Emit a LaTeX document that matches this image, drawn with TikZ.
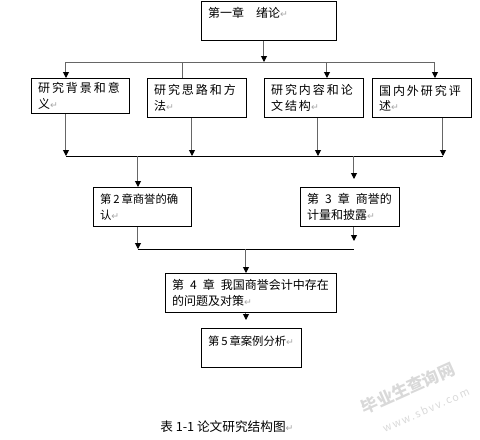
\documentclass[tikz,border=0pt]{standalone}
\usepackage{fontspec}
\usepackage{xcolor}
\usetikzlibrary{arrows.meta}
\newfontfamily\cjk{Noto Sans CJK SC}
\newfontfamily\cjkw[LetterSpace=16]{Noto Sans CJK SC}
\newfontfamily\symf{DejaVu Sans}
\newcommand\retm{{\color{gray!70}\symf\fontsize{7}{11.5}\selectfont ↵}}
\tikzset{
  chap/.style={draw, line width=0.75pt, anchor=north west, align=left, inner xsep=5pt, inner ysep=2pt},
  link/.style={draw=gray!80!black, line width=0.75pt},
  wmark/.style={text=gray!30, rotate=24}
}
\begin{document}
\begin{tikzpicture}[x=0.75pt, y=-0.75pt, font=\cjk\fontsize{9}{11.5}\selectfont, >={Triangle[length=4.5pt,width=4.5pt,color=black]}]
	\useasboundingbox (0,0) rectangle (480,440);
	% boxes
	\node[chap, text width=91.25pt, minimum height=29.25pt] (top) at (201,0.5) {第一章\quad 绪论\retm\\ ~};
	\node[chap, text width=63.5pt, minimum height=26.25pt] (r1) at (31,78) {\cjkw 研究背景和意\\ 义\retm};
	\node[chap, text width=64.25pt, minimum height=29.25pt] (r2) at (147,78) {\cjkw 研究思路和方\\ 法\retm};
	\node[chap, text width=64.25pt, minimum height=29.25pt] (r3) at (264,78) {\cjkw 研究内容和论\\ 文结构\retm};
	\node[chap, text width=64.25pt, minimum height=29.25pt] (r4) at (372,78) {\cjkw 国内外研究评\\ 述\retm};
	\node[chap, text width=63.5pt, minimum height=29.25pt, font=\cjk\fontsize{8.5}{11.5}\selectfont] (c2) at (93,187) {第\,2\,章商誉的确\\ 认\retm};
	\node[chap, text width=64.25pt, minimum height=29.25pt] (c3) at (300,187) {第\enspace 3\enspace 章\enspace 商誉的\\ 计量和披露\retm};
	\node[chap, text width=118.25pt, minimum height=29.25pt] (c4) at (165,273) {第\enspace 4\enspace 章\enspace 我国商誉会计中存在\\ 的问题及对策\retm};
	\node[chap, text width=65pt, minimum height=29.25pt, font=\cjk\fontsize{8.5}{11.5}\selectfont] (c5) at (201,328) {第\,5\,章案例分析\retm\\ ~};
	% junctions
	\coordinate (a0) at (264,62);
	\coordinate (a1) at (66,62);
	\coordinate (a2) at (183,62);
	\coordinate (a3) at (327,62);
	\coordinate (a4) at (435,62);
	\coordinate (b1) at (66,156);
	\coordinate (b2) at (192,156);
	\coordinate (b3) at (318,156);
	\coordinate (b4) at (443,156);
	\coordinate (b5) at (138,156);
	\coordinate (b6) at (354,156);
	\coordinate (t3) at (354,179);
	\coordinate (d1) at (138,249);
	\coordinate (d2) at (354,249);
	\coordinate (d3) at (246,249);
	\coordinate (t4) at (354,241);
	\coordinate (t5) at (246,320);
	% connectors
	\draw[link,->] (a0 |- top.south) -- (a0);
	\draw[link] (a1) -- (a4);
	\draw[link,->] (a1) -- (a1 |- r1.north);
	\draw[link] (a2) -- (a2 |- r2.north);
	\draw[link,->] (a3) -- (a3 |- r3.north);
	\draw[link,->] (a4) -- (a4 |- r4.north);
	\draw[link,->] (b1 |- r1.south) -- (b1);
	\draw[link,->] (b2 |- r2.south) -- (b2);
	\draw[link,->] (b3 |- r3.south) -- (b3);
	\draw[link,->] (b4 |- r4.south) -- (b4);
	\draw[draw=black, line width=0.75pt] (b1) -- (b4);
	\draw[link,->] (b5) -- (b5 |- c2.north);
	\draw[link,->] (b6) -- (t3);
	\draw[link,->] (d1 |- c2.south) -- (d1);
	\draw[link,->] (t4 |- c3.south) -- (t4);
	\draw[draw=black, line width=0.75pt] (d1) -- (d2);
	\draw[link,->] (d3) -- (d3 |- c4.north);
	\draw[link,->] (t5 |- c4.south) -- (t5);
	% caption and watermark
	\node[anchor=west, inner sep=0pt, font=\cjk\fontsize{9.5}{11.5}\selectfont] (cap) at (160,427) {表 1-1 论文研究结构图\retm};
	\node[wmark, font=\cjk\fontsize{12.5}{12.5}\selectfont\bfseries] (wm1) at (408,388) {毕业生查询网};
	\node[wmark, font=\cjkw\fontsize{8}{8}\selectfont] (wm2) at (426,410) {www.sbvv.com};
\end{tikzpicture}
\end{document}
